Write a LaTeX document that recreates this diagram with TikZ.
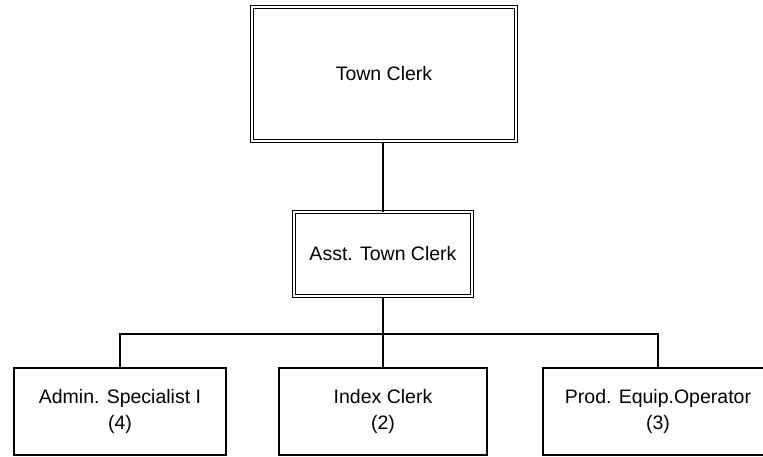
\documentclass[tikz,border=0pt]{standalone}
\usepackage{fontspec}
\setmainfont{Liberation Sans}
\usetikzlibrary{positioning}

\begin{document}
\begin{tikzpicture}[x=1pt,y=-1pt,
  every node/.style={font=\fontsize{19.5}{26}\selectfont,align=center,inner sep=0pt},
  headbox/.style={draw,line width=1pt,double=white,double distance=2.2pt,rectangle},
  staffbox/.style={draw,line width=1.1pt,rectangle,minimum width=212pt,minimum height=87pt},
  link/.style={line width=1.1pt}]

\useasboundingbox (0,0) rectangle (763,456);
\clip (0,0) rectangle (763,456);

% heads
\node[headbox,minimum width=264pt,minimum height=134pt] (clerk) at (384,74) {Town Clerk};
\node[headbox,minimum width=178pt,minimum height=84pt] (asst) at (383,254) {Asst. Town Clerk};

% staff
\node[staffbox] (admin) at (120,411.5) {Admin. Specialist I\\(4)};
\node[staffbox,minimum width=208pt] (index) at (383,411.5) {Index Clerk\\(2)};
\node[staffbox,minimum width=230pt] (prod) at (658,411.5) {Prod. Equip.Operator\\(3)};

% lines
\coordinate (bus) at (383,334);
\draw[link] (clerk.south -| asst.north) -- (asst.north);
\draw[link] (asst.south) -- (bus);
\draw[link] (admin.north) |- (bus) -| (prod.north);
\draw[link] (bus) -- (index.north);

\end{tikzpicture}
\end{document}
